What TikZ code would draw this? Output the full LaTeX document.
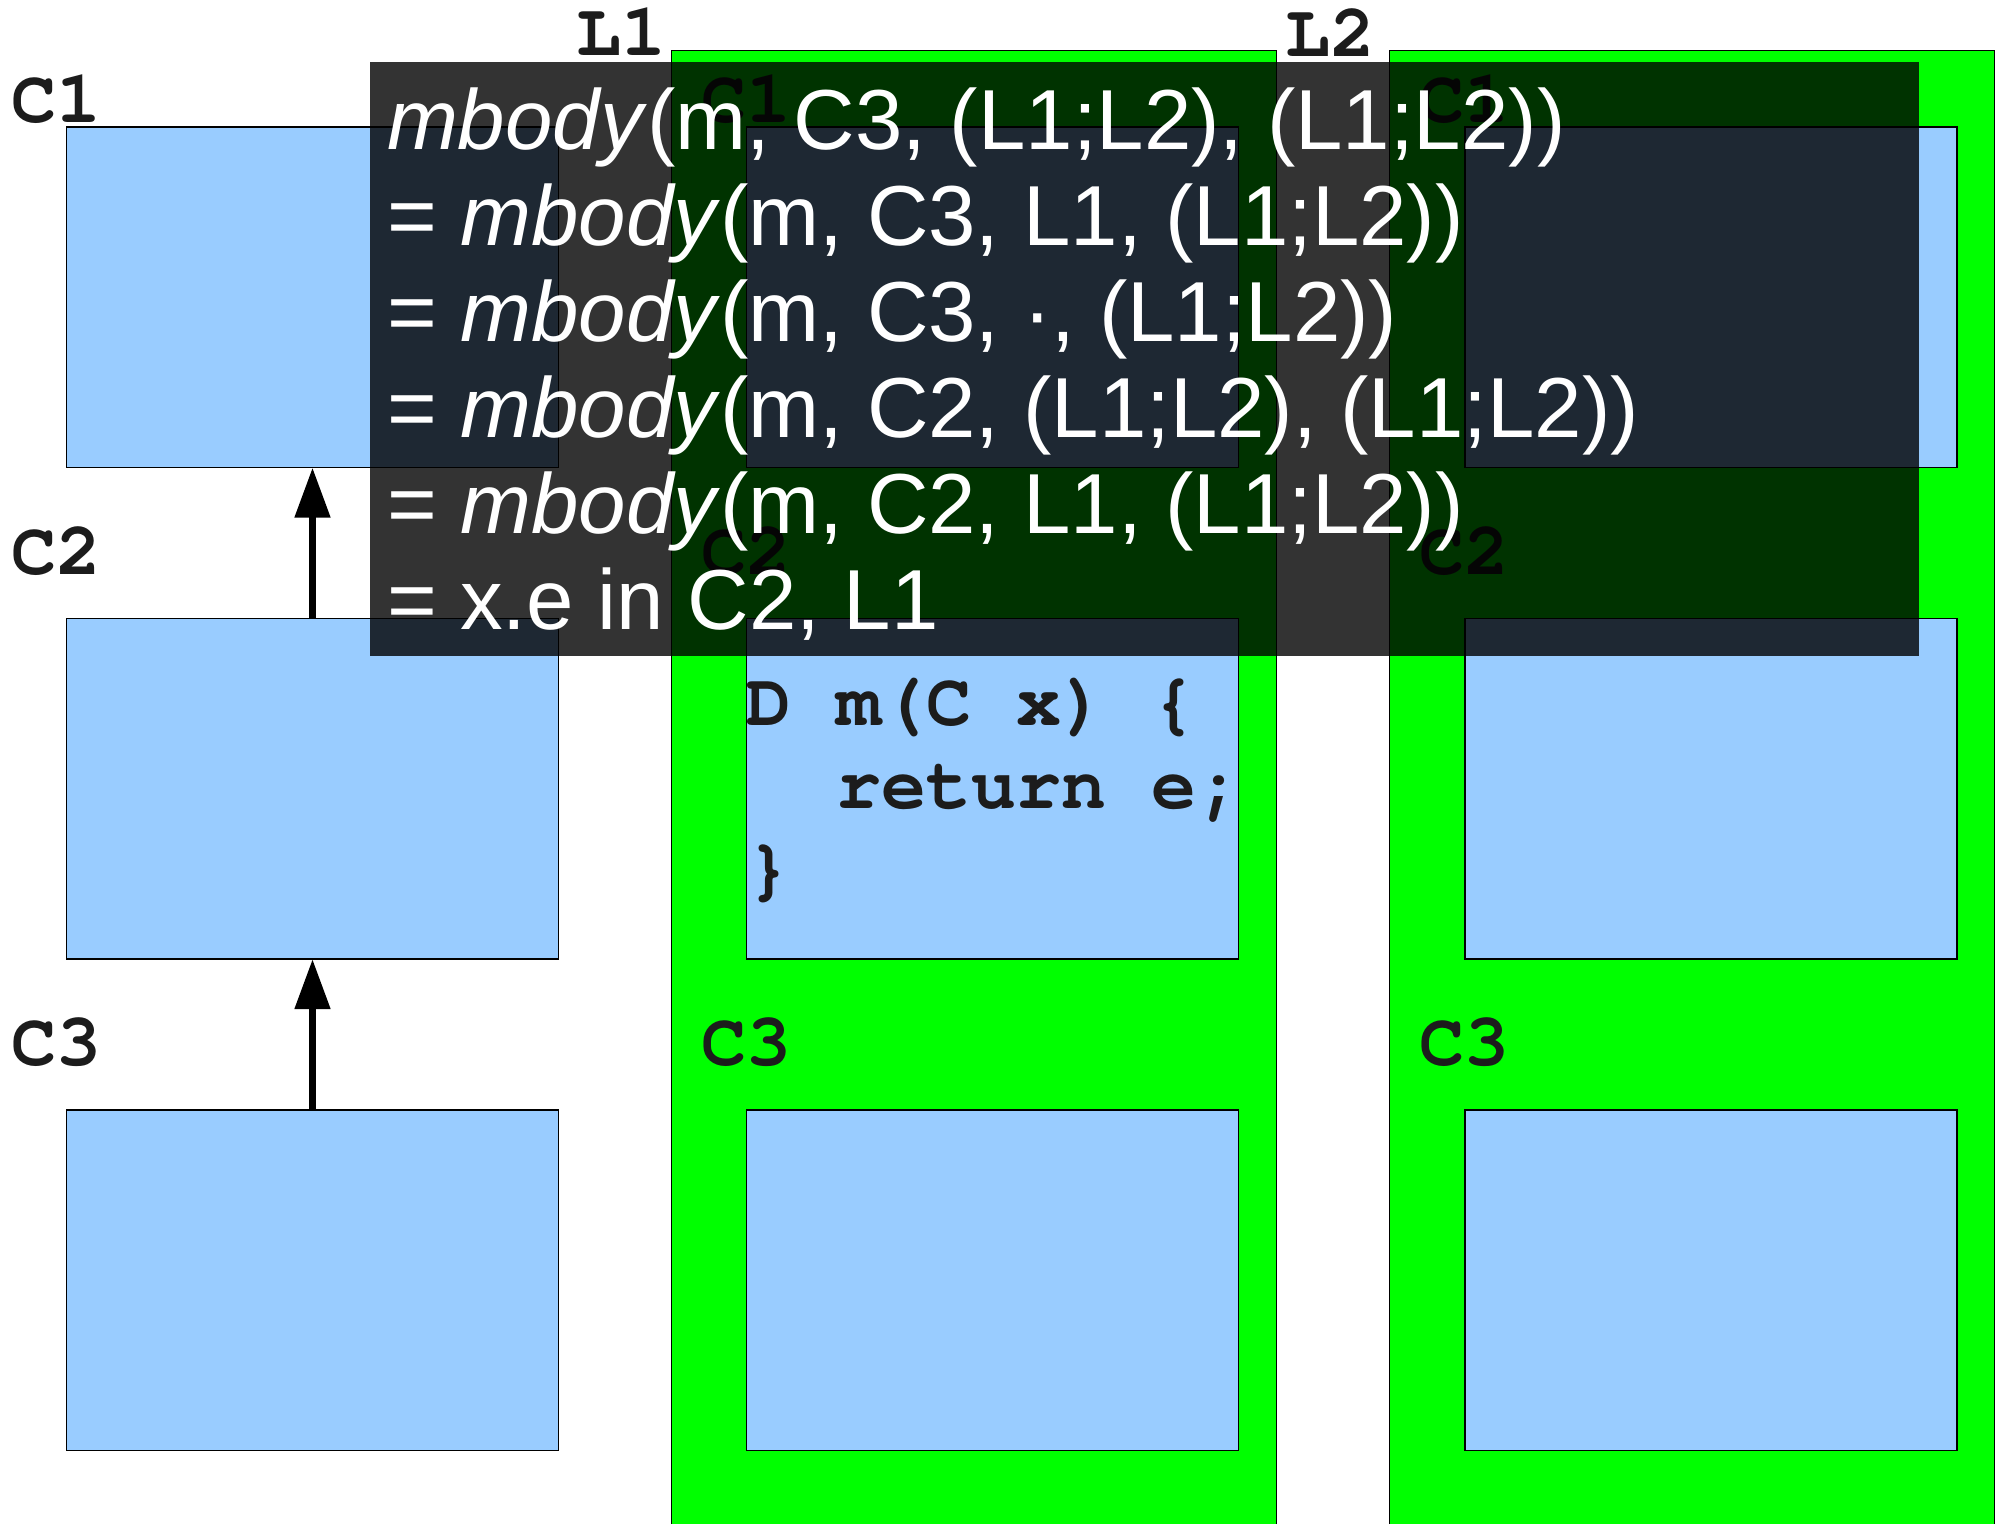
\documentclass[tikz,border=0pt]{standalone}
\usepackage{fontspec}
\setmainfont{Liberation Sans}
\newfontfamily\codefont{texgyrecursor}[Extension=.otf,UprightFont=*-regular,BoldFont=*-bold]
\usetikzlibrary{arrows.meta}
\definecolor{classblue}{HTML}{99CCFF}
\definecolor{layergreen}{HTML}{00FF00}
\definecolor{inkgray}{HTML}{1C1C1C}

\begin{document}
\begin{tikzpicture}[x=0.5pt,y=-0.5pt,
  classbox/.style={draw=black,line width=0.6pt,fill=classblue,minimum width=246pt,
    minimum height=170.25pt,inner sep=0pt,outer sep=0pt,anchor=north west},
  layerbox/.style={draw=black,line width=0.5pt,fill=layergreen,minimum width=302.25pt,
    minimum height=745pt,inner sep=0pt,outer sep=0pt,anchor=north west},
  namelabel/.style={font=\codefont\bfseries\fontsize{37.5}{40}\selectfont,text=inkgray,
    inner sep=0pt,outer sep=0pt,anchor=base west},
  codeline/.style={font=\codefont\bfseries\fontsize{37.5}{40}\selectfont,text=inkgray,
    inner sep=0pt,outer sep=0pt,anchor=base west},
  superarrow/.style={line width=3.85pt,-{Triangle[length=25pt,width=17pt]}},
  darkpane/.style={fill=black,fill opacity=0.8,draw=none,inner sep=0pt,outer sep=0pt,
    anchor=north west,minimum width=774.75pt,minimum height=296.75pt},
  evalline/.style={font=\fontsize{42.6}{48}\selectfont,text=white,inner sep=0pt,
    outer sep=0pt,anchor=base west}]

\useasboundingbox (0,0) rectangle (2006,1524);
\fill[white] (0,0) rectangle (2006,1524);
\begin{scope}
\clip (0,0) rectangle (2006,1524);

% base class hierarchy
\node[classbox] (l1) at (66.5,127) {};
\node[classbox] (l2) at (66.5,618.5) {};
\node[classbox] (l3) at (66.5,1110) {};
\draw[superarrow] (l2.north) -- (l1.south);
\draw[superarrow] (l3.north) -- (l2.south);
\node[namelabel] (n1) at (11,123) {C1};
\node[namelabel] (n2) at (11,574) {C2};
\node[namelabel] (n3) at (11,1065) {C3};

% layer L1
\node[layerbox] (pa) at (671.5,51) {};
\node[classbox] (a1) at (746.5,127) {};
\node[classbox] (a2) at (746.5,618.5) {};
\node[classbox] (a3) at (746.5,1110) {};
\node[namelabel] (na1) at (701,123) {C1};
\node[namelabel] (na2) at (701,574) {C2};
\node[namelabel] (na3) at (701,1065) {C3};
\node[namelabel] (la) at (576,56) {L1};
\node[codeline] (c1) at (746.5,725) {D m(C x) \{};
\node[codeline] (c2) at (746.5,808) {\phantom{xx}return e;};
\node[codeline] (c3) at (746.5,891) {\}};

% layer L2
\node[layerbox] (pb) at (1389.5,51) {};
\node[classbox] (b1) at (1465,127) {};
\node[classbox] (b2) at (1465,618.5) {};
\node[classbox] (b3) at (1465,1110) {};
\node[namelabel] (nb1) at (1419,123) {C1};
\node[namelabel] (nb2) at (1419,574) {C2};
\node[namelabel] (nb3) at (1419,1065) {C3};
\node[namelabel] (lb) at (1285,57) {L2};

% method lookup derivation
\node[darkpane] (pane) at (369.5,62.5) {};
\node[evalline] (e1) at (387,149.7) {\textit{mbody}(m, C3, (L1;L2), (L1;L2))};
\node[evalline] (e2) at (387,245.6) {= \textit{mbody}(m, C3, L1, (L1;L2))};
\node[evalline] (e3) at (387,341.5) {= \textit{mbody}(m, C3, ·, (L1;L2))};
\node[evalline] (e4) at (387,437.4) {= \textit{mbody}(m, C2, (L1;L2), (L1;L2))};
\node[evalline] (e5) at (387,533.3) {= \textit{mbody}(m, C2, L1, (L1;L2))};
\node[evalline] (e6) at (387,629.2) {= x.e in C2, L1};
\end{scope}
\end{tikzpicture}
\end{document}
